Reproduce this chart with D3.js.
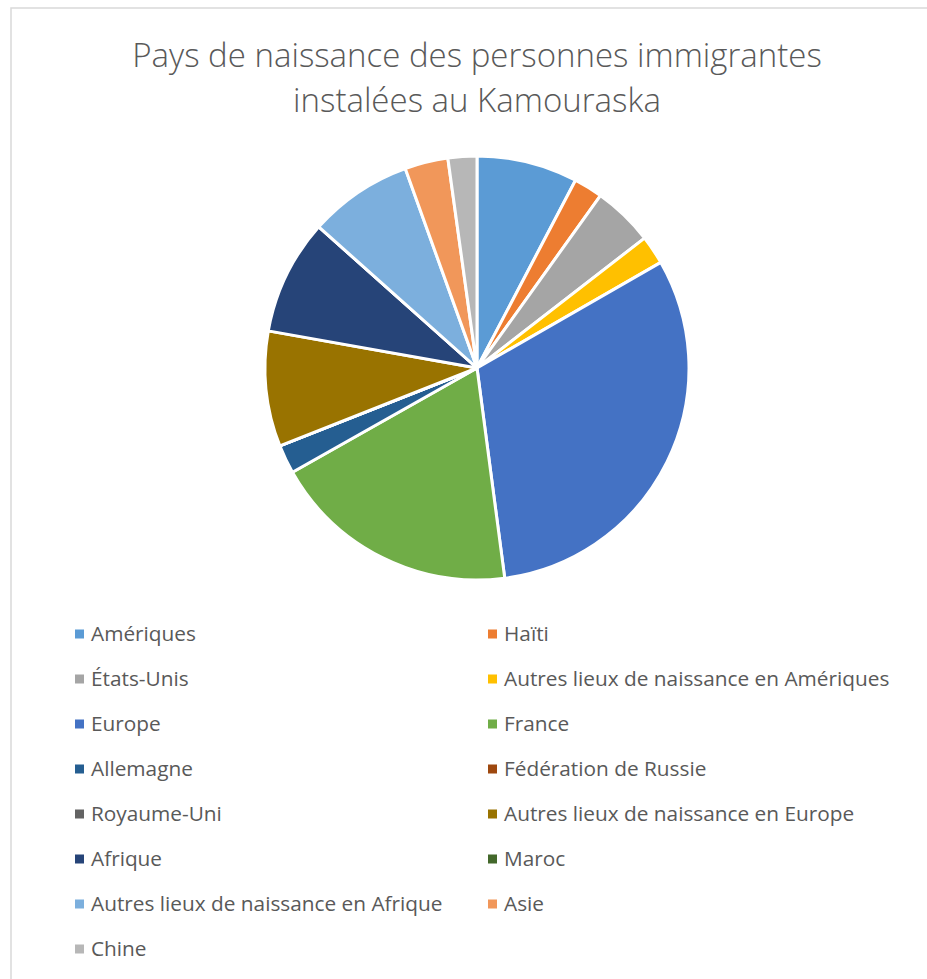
<!DOCTYPE html>
<html>
<head>
<meta charset="utf-8">
<script src="https://cdn.jsdelivr.net/npm/d3@7"></script>
<style>
  html, body { margin: 0; padding: 0; background: #fff; }
  svg { display: block; }
  .title { font-family: "Open Sans", sans-serif; font-weight: 300; fill: #595959; }
  .legend text { font-family: "Open Sans", sans-serif; fill: #595959; }
</style>
</head>
<body>
<div id="chart"></div>
<script>
// categories, in the order Excel draws them (clockwise from 12 o'clock)
const categories = [
  "Amériques", "Haïti", "États-Unis", "Autres lieux de naissance en Amériques",
  "Europe", "France", "Allemagne", "Fédération de Russie", "Royaume-Uni",
  "Autres lieux de naissance en Europe", "Afrique", "Maroc",
  "Autres lieux de naissance en Afrique", "Asie", "Chine"
]
// values
const values = [17.5, 5, 10.5, 5, 71, 43, 5, 0, 0, 20, 20, 0, 18, 7.5, 5]
const colors = [
  "#5B9BD5", "#ED7D31", "#A5A5A5", "#FFC000", "#4472C4", "#70AD47",
  "#255E91", "#9E480E", "#636363", "#997300", "#264478", "#43682B",
  "#7CAFDD", "#F1975A", "#B7B7B7"
]
const titleLines = ["Pays de naissance des personnes immigrantes", "instalées au Kamouraska"]

const width = 927
const height = 979
const cx = 477, cy = 368, radius = 212

const svg = d3.select('#chart')
  .append('svg')
    .attr('width', width)
    .attr('height', height)

// chart frame
svg.append('rect')
  .attr('x', 11).attr('y', 8)
  .attr('width', width).attr('height', height)
  .attr('fill', 'none')
  .attr('stroke', '#d9d9d9')
  .attr('stroke-width', 1.5)

svg.append('text')
  .attr('class', 'title')
  .attr('text-anchor', 'middle')
  .attr('font-size', 33)
  .selectAll('tspan')
  .data(titleLines)
  .enter().append('tspan')
    .attr('x', cx)
    .attr('y', (d, i) => 67 + i * 45)
    .text(d => d)

const data = categories.map((c, i) => ({ key: c, value: values[i], color: colors[i] }))

const pie = d3.pie().sort(null).value(d => d.value)
const arc = d3.arc().innerRadius(0).outerRadius(radius)

svg.append('g')
  .attr('transform', `translate(${cx}, ${cy})`)
  .selectAll('path')
  .data(pie(data))
  .enter().append('path')
    .attr('d', arc)
    .attr('fill', d => d.data.color)
    .attr('stroke', '#fff')
    .attr('stroke-width', 3)
    .attr('stroke-linejoin', 'round')

// legend: two columns, row by row
const colX = d3.scaleOrdinal().domain([0, 1]).range([75, 488])
const rowY = d3.scaleLinear().domain([0, 1]).range([634, 679])

const legend = svg.append('g').attr('class', 'legend')
  .selectAll('g')
  .data(data)
  .enter().append('g')
    .attr('transform', (d, i) => `translate(${colX(i % 2)}, ${rowY(Math.floor(i / 2))})`)

legend.append('rect')
  .attr('x', 0).attr('y', -4.5)
  .attr('width', 9).attr('height', 9)
  .attr('fill', d => d.color)

legend.append('text')
  .attr('x', 16)
  .attr('dy', '0.35em')
  .attr('font-size', 20.8)
  .text(d => d.key)
</script>
</body>
</html>
